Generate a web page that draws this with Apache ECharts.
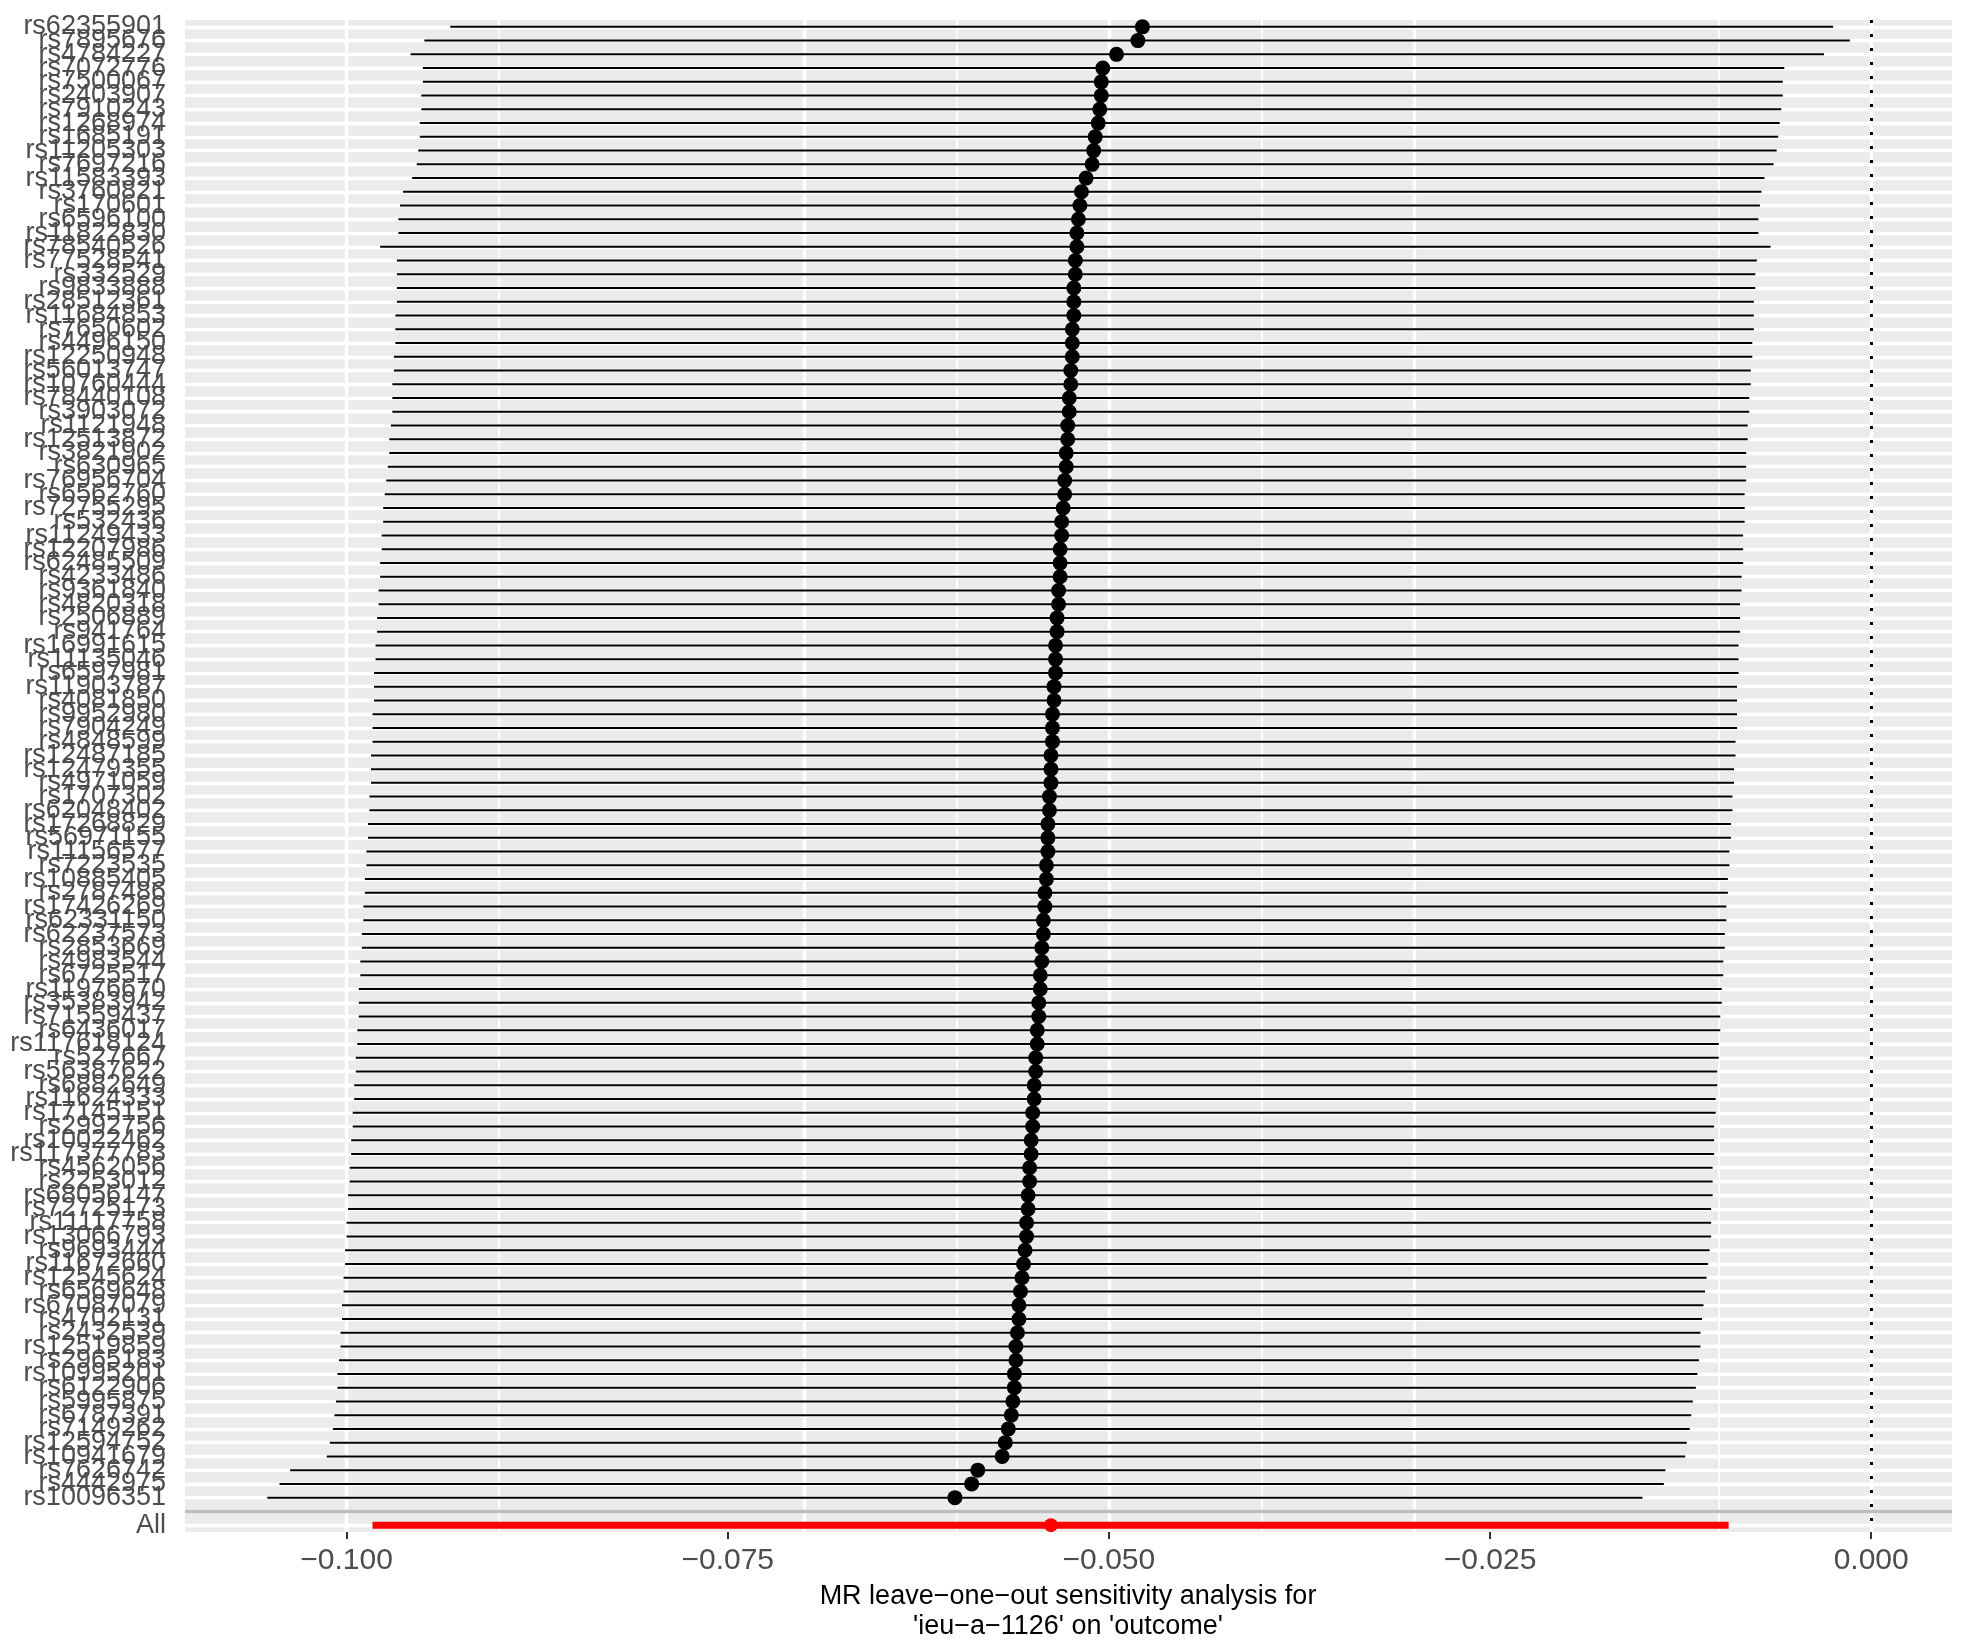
<!DOCTYPE html>
<html>
<head>
<meta charset="utf-8">
<script src="https://cdn.jsdelivr.net/npm/echarts@6.0.0/dist/echarts.min.js"></script>
<style>
  html, body { margin: 0; padding: 0; background: #fff; }
  #chart { width: 1969px; height: 1644px; }
</style>
</head>
<body>
<div id="chart"></div>
<script>
// leave-one-out rows, top to bottom
const snps = [
  'rs62355901', 'rs7895676', 'rs4784227', 'rs7072776', 'rs7500067', 'rs2403907', 'rs7910243', 'rs1268974', 'rs1685191', 'rs11205303',
  'rs7697216', 'rs11583393', 'rs3760821', 'rs170601', 'rs6596100', 'rs11822830', 'rs78540526', 'rs77528541', 'rs332529', 'rs9833888',
  'rs28512361', 'rs11684853', 'rs7650602', 'rs4496150', 'rs12250948', 'rs56013747', 'rs10760444', 'rs78440108', 'rs3903072', 'rs1121948',
  'rs12513872', 'rs3821902', 'rs630965', 'rs76956704', 'rs6562760', 'rs72755295', 'rs532436', 'rs11249433', 'rs12207986', 'rs62485509',
  'rs4233486', 'rs9361840', 'rs4820318', 'rs2506889', 'rs941764', 'rs16991615', 'rs11135046', 'rs6597981', 'rs11903787', 'rs4081850',
  'rs9952980', 'rs7904249', 'rs4848599', 'rs12487185', 'rs12479355', 'rs4971059', 'rs1707302', 'rs62048402', 'rs17268829', 'rs56971155',
  'rs11156577', 'rs7223535', 'rs10885405', 'rs2787486', 'rs17426269', 'rs62331150', 'rs62237573', 'rs2853669', 'rs4983544', 'rs6725517',
  'rs11976670', 'rs35383942', 'rs71559437', 'rs6436017', 'rs117618124', 'rs527667', 'rs56387622', 'rs6882649', 'rs11624333', 'rs17145151',
  'rs2992756', 'rs10022462', 'rs117377783', 'rs4562056', 'rs2253012', 'rs68056147', 'rs72725173', 'rs11117758', 'rs13066793', 'rs9693444',
  'rs11672660', 'rs12545624', 'rs6569648', 'rs67087079', 'rs4702131', 'rs2432539', 'rs12519859', 'rs2965183', 'rs10995201', 'rs6122906',
  'rs5995875', 'rs6787391', 'rs7149262', 'rs12594752', 'rs10941679', 'rs7626742', 'rs4442975', 'rs10096351'
]

const b = [
  -0.0478, -0.0481, -0.0495, -0.0504, -0.0505, -0.0505, -0.0506, -0.0507, -0.0509, -0.0510,
  -0.0511, -0.0515, -0.0518, -0.0519, -0.0520, -0.0521, -0.0521, -0.0522, -0.0522, -0.0523,
  -0.0523, -0.0523, -0.0524, -0.0524, -0.0524, -0.0525, -0.0525, -0.0526, -0.0526, -0.0527,
  -0.0527, -0.0528, -0.0528, -0.0529, -0.0529, -0.0530, -0.0531, -0.0531, -0.0532, -0.0532,
  -0.0532, -0.0533, -0.0533, -0.0534, -0.0534, -0.0535, -0.0535, -0.0535, -0.0536, -0.0536,
  -0.0537, -0.0537, -0.0537, -0.0538, -0.0538, -0.0538, -0.0539, -0.0539, -0.0540, -0.0540,
  -0.0540, -0.0541, -0.0541, -0.0542, -0.0542, -0.0543, -0.0543, -0.0544, -0.0544, -0.0545,
  -0.0545, -0.0546, -0.0546, -0.0547, -0.0547, -0.0548, -0.0548, -0.0549, -0.0549, -0.0550,
  -0.0550, -0.0551, -0.0551, -0.0552, -0.0552, -0.0553, -0.0553, -0.0554, -0.0554, -0.0555,
  -0.0556, -0.0557, -0.0558, -0.0559, -0.0559, -0.0560, -0.0561, -0.0561, -0.0562, -0.0562,
  -0.0563, -0.0564, -0.0566, -0.0568, -0.0570, -0.0586, -0.0590, -0.0601
]

const lo = [
  -0.0932, -0.0949, -0.0958, -0.0950, -0.0950, -0.0951, -0.0951, -0.0952, -0.0952, -0.0953,
  -0.0954, -0.0957, -0.0963, -0.0965, -0.0966, -0.0966, -0.0978, -0.0967, -0.0967, -0.0967,
  -0.0967, -0.0968, -0.0968, -0.0968, -0.0969, -0.0969, -0.0970, -0.0970, -0.0970, -0.0971,
  -0.0972, -0.0972, -0.0973, -0.0974, -0.0975, -0.0976, -0.0976, -0.0977, -0.0977, -0.0978,
  -0.0978, -0.0979, -0.0979, -0.0980, -0.0980, -0.0981, -0.0981, -0.0982, -0.0982, -0.0982,
  -0.0983, -0.0983, -0.0983, -0.0984, -0.0984, -0.0984, -0.0985, -0.0985, -0.0986, -0.0986,
  -0.0987, -0.0987, -0.0988, -0.0988, -0.0989, -0.0989, -0.0990, -0.0990, -0.0991, -0.0991,
  -0.0992, -0.0992, -0.0992, -0.0993, -0.0993, -0.0994, -0.0994, -0.0995, -0.0995, -0.0996,
  -0.0996, -0.0997, -0.0997, -0.0998, -0.0998, -0.0999, -0.0999, -0.1000, -0.1000, -0.1001,
  -0.1001, -0.1002, -0.1002, -0.1003, -0.1003, -0.1004, -0.1004, -0.1005, -0.1006, -0.1006,
  -0.1007, -0.1008, -0.1009, -0.1011, -0.1013, -0.1037, -0.1044, -0.1052
]

const hi = [
  -0.0025, -0.0014, -0.0031, -0.0057, -0.0058, -0.0058, -0.0059, -0.0060, -0.0061, -0.0062,
  -0.0064, -0.0070, -0.0072, -0.0073, -0.0074, -0.0074, -0.0066, -0.0075, -0.0076, -0.0076,
  -0.0077, -0.0077, -0.0077, -0.0078, -0.0078, -0.0079, -0.0079, -0.0080, -0.0080, -0.0081,
  -0.0081, -0.0082, -0.0082, -0.0082, -0.0083, -0.0083, -0.0083, -0.0084, -0.0084, -0.0084,
  -0.0085, -0.0085, -0.0086, -0.0086, -0.0086, -0.0087, -0.0087, -0.0087, -0.0088, -0.0088,
  -0.0088, -0.0088, -0.0089, -0.0089, -0.0090, -0.0090, -0.0091, -0.0091, -0.0092, -0.0092,
  -0.0093, -0.0093, -0.0094, -0.0094, -0.0095, -0.0095, -0.0096, -0.0096, -0.0097, -0.0097,
  -0.0098, -0.0098, -0.0099, -0.0099, -0.0100, -0.0100, -0.0101, -0.0101, -0.0102, -0.0102,
  -0.0103, -0.0103, -0.0103, -0.0104, -0.0104, -0.0104, -0.0105, -0.0105, -0.0105, -0.0106,
  -0.0107, -0.0108, -0.0109, -0.0110, -0.0111, -0.0112, -0.0112, -0.0113, -0.0114, -0.0115,
  -0.0117, -0.0118, -0.0119, -0.0121, -0.0122, -0.0135, -0.0136, -0.0150
]

// combined estimate using all SNPs: [b, lo, hi]
const allRow = [-0.0538, -0.0983, -0.00935]

const xTicks = [-0.1, -0.075, -0.05, -0.025, 0]
const xMinor = [-0.0875, -0.0625, -0.0375, -0.0125]

const cats = snps.concat(['', 'All'])
const font = '"Liberation Sans", Arial, sans-serif'

const barItem = (color, width) => (params, api) => {
  const y = api.value(2)
  const s = api.coord([api.value(0), y])
  const e = api.coord([api.value(1), y])
  return {
    type: 'line',
    shape: { x1: s[0], y1: s[1], x2: e[0], y2: e[1] },
    style: { stroke: color, lineWidth: width }
  }
}

const chart = echarts.init(document.getElementById('chart'))
chart.setOption({
  animation: false,
  grid: {
    left: 185,
    right: 17,
    top: 20,
    bottom: 112,
    show: true,
    backgroundColor: '#EBEBEB',
    borderWidth: 0
  },
  xAxis: {
    type: 'value',
    min: -0.1106,
    max: 0.0053,
    splitLine: { show: false },
    axisLine: { show: false },
    axisTick: {
      show: true,
      customValues: xTicks,
      length: 7,
      lineStyle: { color: '#333', width: 2 }
    },
    axisLabel: {
      customValues: xTicks,
      formatter: v => (v < 0 ? '\u2212' : '') + Math.abs(v).toFixed(3),
      fontSize: 30,
      color: '#4D4D4D',
      fontFamily: font,
      margin: 14
    }
  },
  yAxis: {
    type: 'category',
    data: cats,
    inverse: true,
    axisLine: { show: false },
    splitLine: { show: false },
    axisTick: {
      show: true,
      alignWithLabel: true,
      length: 8,
      lineStyle: { color: '#D4D4D4', width: 1 }
    },
    axisLabel: {
      interval: 0,
      fontSize: 27,
      color: '#4D4D4D',
      fontFamily: font,
      margin: 19
    }
  },
  graphic: [{
    type: 'text',
    x: 1068,
    y: 1582,
    style: {
      text: "MR leave\u2212one\u2212out sensitivity analysis for\n'ieu\u2212a\u22121126' on 'outcome'",
      fill: '#000',
      fontSize: 27,
      fontFamily: font,
      lineHeight: 30,
      align: 'center',
      verticalAlign: 'top'
    }
  }],
  series: [
    {
      // white panel grid lines
      type: 'scatter',
      z: 1,
      symbolSize: 0,
      silent: true,
      data: snps.map((s, i) => [b[i], s]),
      markLine: {
        z: 1,
        silent: true,
        symbol: ['none', 'none'],
        label: { show: false },
        lineStyle: { color: '#fff', type: 'solid' },
        data: [
          ...xTicks.map(v => ({ xAxis: v, lineStyle: { width: 3.3 } })),
          ...xMinor.map(v => ({ xAxis: v, lineStyle: { width: 1.7 } })),
          ...cats.map((c, i) => ({ yAxis: i, lineStyle: { width: 3.3 } }))
        ]
      }
    },
    {
      // zero line and the separator above All
      type: 'scatter',
      z: 2,
      symbolSize: 0,
      silent: true,
      data: [[allRow[0], 'All']],
      markLine: {
        z: 2,
        silent: true,
        symbol: ['none', 'none'],
        label: { show: false },
        data: [
          { xAxis: 0, lineStyle: { color: '#000', width: 3, type: [3, 11] } },
          { yAxis: snps.length, lineStyle: { color: '#BEBEBE', width: 3.3, type: 'solid' } }
        ]
      }
    },
    {
      type: 'custom',
      z: 3,
      renderItem: barItem('#000', 2),
      encode: { x: [0, 1], y: 2 },
      data: snps.map((s, i) => [lo[i], hi[i], s])
    },
    {
      type: 'custom',
      z: 3,
      renderItem: barItem('#FF0000', 7),
      encode: { x: [0, 1], y: 2 },
      data: [[allRow[1], allRow[2], 'All']]
    },
    {
      type: 'scatter',
      z: 4,
      symbolSize: 15,
      itemStyle: { color: '#000', opacity: 1 },
      data: snps.map((s, i) => [b[i], s])
    },
    {
      type: 'scatter',
      z: 4,
      symbolSize: 14,
      itemStyle: { color: '#FF0000', opacity: 1 },
      data: [[allRow[0], 'All']]
    }
  ]
})
</script>
</body>
</html>
